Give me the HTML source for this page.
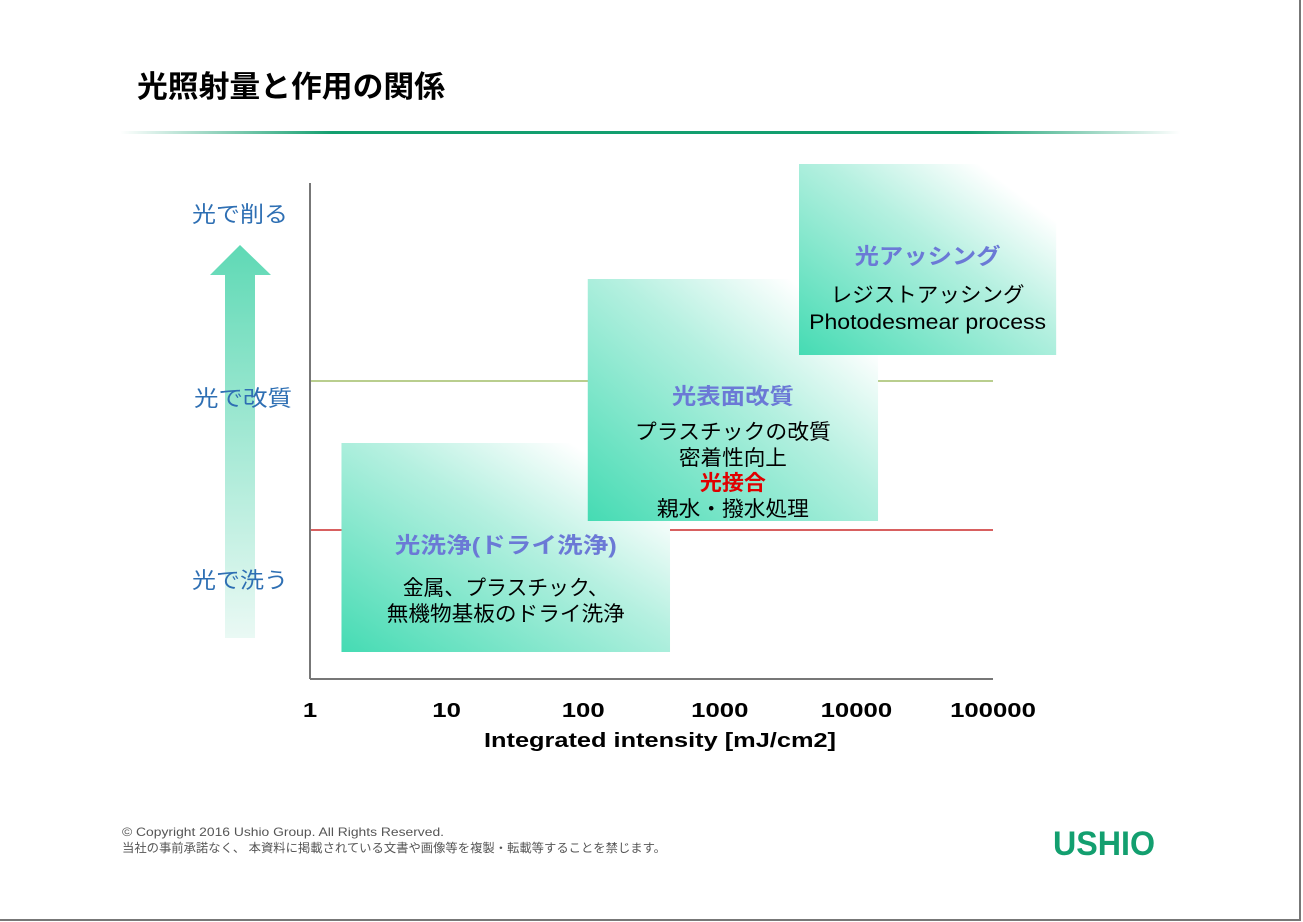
<!DOCTYPE html>
<html><head><meta charset="utf-8">
<style>
body{margin:0;width:1303px;height:922px;overflow:hidden;background:#fff;font-family:"Liberation Sans","Noto Sans CJK JP",sans-serif;}
#page{position:absolute;left:0;top:0;width:1299px;height:919px;border-right:2px solid #777;border-bottom:2px solid #777;background:#fff;}
</style></head><body>
<div id="page">
<svg width="1303" height="922" style="position:absolute;left:0;top:0">
<defs>
<linearGradient id="tl" x1="0" x2="1" y1="0" y2="0">
<stop offset="0" stop-color="#139f6f" stop-opacity="0"/><stop offset="0.2" stop-color="#139f6f"/><stop offset="0.8" stop-color="#139f6f"/><stop offset="1" stop-color="#139f6f" stop-opacity="0"/></linearGradient>
<linearGradient id="bx" x1="0" y1="1" x2="1" y2="0">
<stop offset="0" stop-color="#45dbb3"/><stop offset="0.55" stop-color="#b5f0e0"/><stop offset="0.85" stop-color="#ffffff"/></linearGradient>
<linearGradient id="ar" x1="0" y1="0" x2="0" y2="1">
<stop offset="0" stop-color="#5fd9b5"/><stop offset="1" stop-color="#eaf9f4"/></linearGradient>
</defs>
<text x="137" y="97" font-size="30" font-weight="bold" fill="#000" textLength="308" lengthAdjust="spacingAndGlyphs">光照射量と作用の関係</text>
<rect x="120" y="131" width="1060" height="3" fill="url(#tl)"/>
<g id="plot"></g>
<polygon points="240,245 271,275 255,275 255,638 225,638 225,275 210,275" fill="url(#ar)"/>
<g font-size="22" fill="#2e6fb3">
<text x="240" y="222" text-anchor="middle" textLength="96" lengthAdjust="spacingAndGlyphs">光で削る</text>
<text x="243" y="406" text-anchor="middle" textLength="98" lengthAdjust="spacingAndGlyphs">光で改質</text>
<text x="240" y="588" text-anchor="middle" textLength="96" lengthAdjust="spacingAndGlyphs">光で洗う</text>
</g>
<text x="660" y="747" font-size="20" font-weight="bold" text-anchor="middle" fill="#000" textLength="352" lengthAdjust="spacingAndGlyphs">Integrated intensity [mJ/cm2]</text>
<text x="122" y="836" font-size="12" fill="#555" textLength="322" lengthAdjust="spacingAndGlyphs">© Copyright 2016 Ushio Group.  All Rights Reserved.</text>
<text x="122" y="852" font-size="12" fill="#555" textLength="544" lengthAdjust="spacingAndGlyphs">当社の事前承諾なく、 本資料に掲載されている文書や画像等を複製・転載等することを禁じます。</text>
<text x="1053" y="855" font-size="34" font-weight="bold" fill="#139f6f" textLength="102" lengthAdjust="spacingAndGlyphs">USHIO</text>
</svg>
</div>
<script>
const tickValues=[1,10,100,1000,10000,100000];
const tickLabels=["1","10","100","1000","10000","100000"];
const boxTitles=["光洗浄(ドライ洗浄)","光表面改質","光アッシング"];
const boxStart=[1.7,108,3800];
const boxEnd=[432,14400,290000];
const levelLines=[530,381];
const NS="http://www.w3.org/2000/svg";
const X0=310,DEC=136.6;
function xs(v){return X0+Math.log10(v)*DEC;}
const g=document.getElementById('plot');
function mk(t,a){const e=document.createElementNS(NS,t);for(const k in a)e.setAttribute(k,a[k]);g.appendChild(e);return e;}
const lc=["#c00000","#8fb14a"];
levelLines.forEach((y,i)=>{const l=mk('line',{x1:X0,x2:xs(100000),y1:y,y2:y,stroke:lc[i],'stroke-width':1.3});

});
const ya=mk('line',{x1:X0,x2:X0,y1:183,y2:679,stroke:'#777','stroke-width':2});


const xa=mk('line',{x1:X0,x2:xs(100000),y1:679,y2:679,stroke:'#777','stroke-width':2});


tickValues.forEach((v,i)=>{const t=mk('text',{x:xs(v),y:717,'font-size':20,'font-weight':'bold','text-anchor':'middle',fill:'#000',textLength:tickLabels[i].length*14.3,lengthAdjust:'spacingAndGlyphs'});t.textContent=tickLabels[i];

});
const ys=[[443,652],[279,521],[164,355]];
const lines=[
 [["金属、プラスチック、",595,"#000",false,206],["無機物基板のドライ洗浄",621,"#000",false,238]],
 [["プラスチックの改質",439,"#000",false,196],["密着性向上",465,"#000",false,108],["光接合",490,"#e00000",true,66],["親水・撥水処理",516,"#000",false,152]],
 [["レジストアッシング",302,"#000",false,194],["Photodesmear process",329,"#000",false,237]]];
const ty=[553,404,264];
const tw=[222,122,146];
boxTitles.forEach((tt,i)=>{
 const x1=xs(boxStart[i]),x2=xs(boxEnd[i]);
 const r=mk('rect',{x:x1,y:ys[i][0],width:x2-x1,height:ys[i][1]-ys[i][0],fill:'url(#bx)'});
 
 
 const cx=(x1+x2)/2;
 const t=mk('text',{x:cx,y:ty[i],'font-size':22,'font-weight':'bold','text-anchor':'middle',fill:'#6b79d6',textLength:tw[i],lengthAdjust:'spacingAndGlyphs'});t.textContent=tt;
 
 
 lines[i].forEach(l=>{const e=mk('text',{x:cx,y:l[1],'font-size':21,'text-anchor':'middle',fill:l[2],'font-weight':l[3]?'bold':'normal',textLength:l[4],lengthAdjust:'spacingAndGlyphs'});e.textContent=l[0];
 
 });
});
</script>
</body></html>
